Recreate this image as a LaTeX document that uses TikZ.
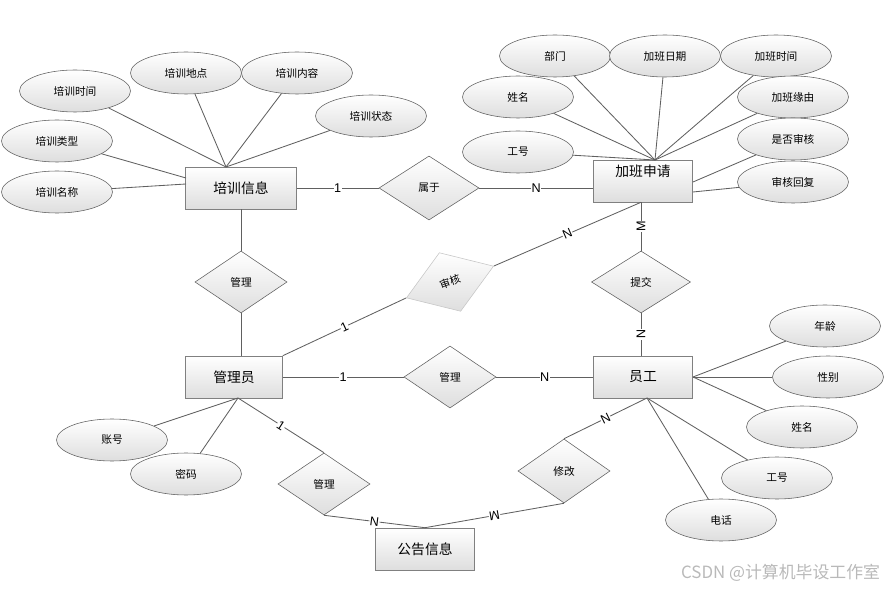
\documentclass[tikz,border=0pt]{standalone}
\usepackage{fontspec}
\setmainfont{Liberation Sans}
\newfontfamily\cjk{Noto Sans CJK SC}
\usetikzlibrary{shapes.geometric}

\definecolor{linegray}{HTML}{606060}
\definecolor{boxgray}{HTML}{808080}
\definecolor{shadegray}{HTML}{DEDEDE}

\begin{document}
\begin{tikzpicture}[
    x=0.025cm, y=-0.025cm,
    every node/.style={font=\cjk\fontsize{7.6}{9}\selectfont},
    entity/.style={draw=boxgray, rectangle, top color=white, bottom color=shadegray,
        minimum width=2.475cm, minimum height=1.05cm, inner sep=0pt,
        font=\cjk\fontsize{9.8}{12}\selectfont},
    attr/.style={draw=linegray, ellipse, top color=white, bottom color=shadegray,
        minimum width=2.775cm, minimum height=1.05cm, inner sep=0pt},
    rel/.style={draw=linegray, diamond, top color=white, bottom color=shadegray,
        minimum width=2.3cm, minimum height=1.55cm, inner sep=0pt},
    card/.style={font=\fontsize{9}{10}\selectfont, inner sep=0.4pt, fill=white},
    link/.style={draw=linegray, line width=0.6pt}
]
\useasboundingbox (0,0) rectangle (888,589);

% === Entities ===
\node[entity, minimum width=2.775cm] (info) at (241,188) {培训信息};
\node[entity, text height=0.3cm, text depth=0.5cm] (apply) at (643,181) {加班申请};
\node[entity, minimum width=2.425cm] (admin) at (234,377) {管理员};
\node[entity] (staff) at (643,377) {员工};
\node[entity] (notice) at (425,549) {公告信息};

% === Relations ===
\node[rel, minimum width=2.5cm, minimum height=1.6cm] (belong) at (429,188) {属于};
\node[rel] (manageA) at (241,282) {管理};
\node[rel, rotate=20, draw=gray!45, minimum width=2.32cm, minimum height=1.56cm] (audit) at (450,282) {审核};
\node[rel, minimum width=2.475cm] (submit) at (641,282) {提交};
\node[rel] (manageB) at (450,377) {管理};
\node[rel] (manageC) at (324,484) {管理};
\node[rel, minimum height=1.6cm] (modify) at (564,471) {修改};

% === Attributes of 培训信息 ===
\node[attr] (infoTime) at (75,91) {培训时间};
\node[attr] (infoPlace) at (186,73) {培训地点};
\node[attr] (infoContent) at (297,73) {培训内容};
\node[attr] (infoState) at (371,116) {培训状态};
\node[attr] (infoType) at (57,141) {培训类型};
\node[attr] (infoName) at (57,192) {培训名称};

% === Attributes of 加班申请 ===
\node[attr] (applyDept) at (555,56) {部门};
\node[attr] (applyDate) at (665,56) {加班日期};
\node[attr] (applyTime) at (776,56) {加班时间};
\node[attr] (applyName) at (518,97) {姓名};
\node[attr] (applyReason) at (793,97) {加班缘由};
\node[attr] (applyNo) at (518,152) {工号};
\node[attr] (applyCheck) at (793,139) {是否审核};
\node[attr] (applyReply) at (793,182) {审核回复};

% === Attributes of 员工 ===
\node[attr] (staffAge) at (825,326) {年龄};
\node[attr] (staffSex) at (828,377) {性别};
\node[attr] (staffName) at (802,427) {姓名};
\node[attr] (staffNo) at (777,478) {工号};
\node[attr] (staffTel) at (721,520) {电话};

% === Attributes of 管理员 ===
\node[attr] (adminAcc) at (112,440) {账号};
\node[attr] (adminPwd) at (186,474) {密码};

% hub points on the entity borders
\coordinate (infoHub) at (226,167);
\coordinate (infoLeftA) at (186,178);
\coordinate (infoLeftB) at (186,184);
\coordinate (applyHub) at (655,160);
\coordinate (applyRightA) at (693,182);
\coordinate (applyRightB) at (693,192);
\coordinate (staffRight) at (693,377);
\coordinate (staffFoot) at (647,398);
\coordinate (adminFoot) at (238,398);

% attribute links
\foreach \a in {infoTime,infoPlace,infoContent,infoState}
  \draw[link] (\a) -- (infoHub);
\draw[link] (infoType) -- (infoLeftA);
\draw[link] (infoName) -- (infoLeftB);
\foreach \a in {applyDept,applyDate,applyTime,applyName,applyReason,applyNo}
  \draw[link] (\a) -- (applyHub);
\draw[link] (applyCheck) -- (applyRightA);
\draw[link] (applyReply) -- (applyRightB);
\foreach \a in {staffAge,staffSex,staffName}
  \draw[link] (\a) -- (staffRight);
\foreach \a in {staffNo,staffTel}
  \draw[link] (\a) -- (staffFoot);
\foreach \a in {adminAcc,adminPwd}
  \draw[link] (\a) -- (adminFoot);

% relation links
\draw[link] (info) -- node[card] {1} (belong);
\draw[link] (belong) -- node[card] {N} (belong -| apply.west);
\draw[link] (info) -- (manageA);
\draw[link] (manageA) -- (manageA |- admin.north);
\draw[link] (admin.north east) -- node[card, sloped] {1} (audit.west);
\draw[link] (audit.east) -- node[card, sloped] {N} (submit |- apply.south);
\draw[link] (submit |- apply.south) -- node[card, rotate=90] {M} (submit);
\draw[link] (submit) -- node[card, rotate=-90] {N} (submit |- staff.north);
\draw[link] (admin) -- node[card] {1} (manageB);
\draw[link] (manageB) -- node[card] {N} (staff);
\draw[link] (adminFoot) -- node[card, sloped] {1} (manageC.north);
\draw[link] (manageC.south) -- node[card, sloped] {N} (notice.north);
\draw[link] (staffFoot) -- node[card, sloped] {N} (modify.north);
\draw[link] (modify.south) -- node[card, rotate=190] {M} (notice.north);

% watermark
\node[font=\cjk\fontsize{12}{14}\selectfont, text=gray!55, anchor=east] (mark) at (885,573) {CSDN @计算机毕设工作室};

\end{tikzpicture}
\end{document}
